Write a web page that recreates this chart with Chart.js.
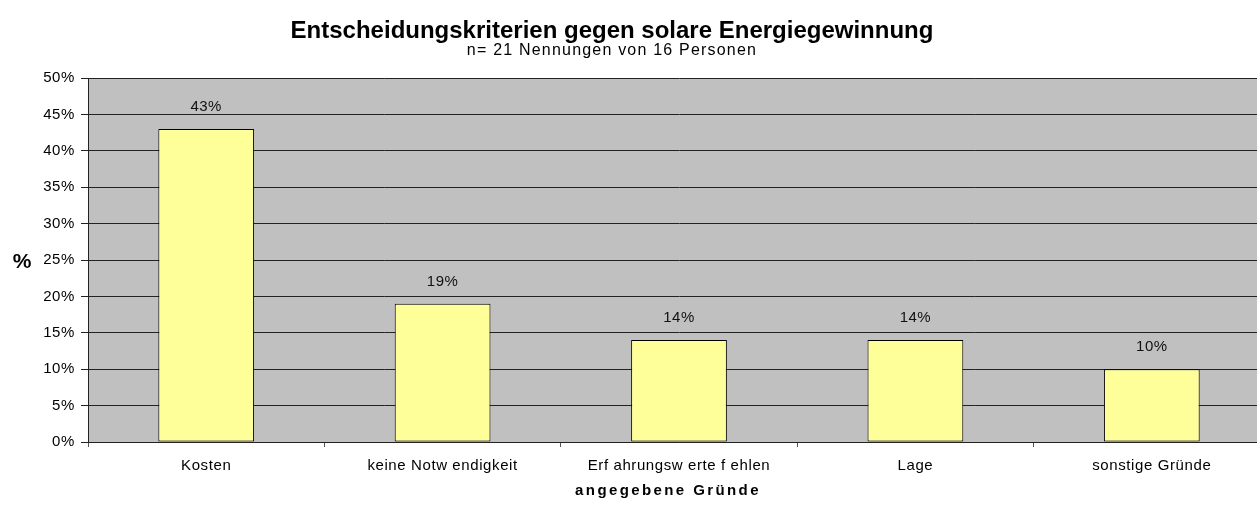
<!DOCTYPE html>
<html>
<head>
<meta charset="utf-8">
<script src="https://cdn.jsdelivr.net/npm/chart.js@4"></script>
<style>
    html, body { margin: 0; padding: 0; background: #fff; overflow: hidden; }
    /* the source picture is cut off on the right, so the chart is a bit wider than the window */
    #wrap { width: 1270px; height: 506px; }
</style>
</head>
<body>
<div id="wrap"><canvas id="barChart"></canvas></div>
<script>
var categories = ['Kosten', 'keine Notw endigkeit', 'Erf ahrungsw erte f ehlen', 'Lage', 'sonstige Gründe'];
var shares = [43, 19, 14, 14, 10];
var yTicks = [0, 5, 10, 15, 20, 25, 30, 35, 40, 45, 50];

var chartTitle = 'Entscheidungskriterien gegen solare Energiegewinnung';
var chartSubtitle = 'n= 21 Nennungen von 16 Personen';
var xTitle = 'angegebene Gründe';
var yTitle = '%';

var FONT = '"Liberation Sans", Arial, sans-serif';

// gray plot background, labels and titles
var decorations = {
    id: 'decorations',
    beforeDraw: function (chart) {
        var ctx = chart.ctx;
        var a = chart.chartArea;
        ctx.save();
        ctx.fillStyle = '#c0c0c0';
        ctx.fillRect(a.left, a.top, a.right - a.left, a.bottom - a.top);
        ctx.restore();
        // the original text is a bit spread out; ticks pick this up
        ctx.letterSpacing = '0.6px';
    },
    afterDraw: function (chart) {
        var ctx = chart.ctx;
        ctx.save();
        ctx.fillStyle = '#000';
        ctx.textAlign = 'center';
        ctx.textBaseline = 'middle';

        ctx.letterSpacing = '0px';
        ctx.font = 'bold 24px ' + FONT;
        ctx.fillText(chartTitle, 612, 31);

        ctx.letterSpacing = '1.2px';
        ctx.font = '16px ' + FONT;
        ctx.fillText(chartSubtitle, 612, 51);

        ctx.letterSpacing = '2.4px';
        ctx.font = 'bold 15px ' + FONT;
        ctx.fillText(xTitle, 668, 491);

        ctx.letterSpacing = '0px';
        ctx.font = 'bold 21px ' + FONT;
        ctx.fillText(yTitle, 22, 262);

        // value labels above bars
        ctx.letterSpacing = '0.5px';
        ctx.font = '15px ' + FONT;
        ctx.fillStyle = '#111';
        var meta = chart.getDatasetMeta(0);
        meta.data.forEach(function (bar, i) {
            ctx.fillText(shares[i] + '%', bar.x, bar.y - 22);
        });
        ctx.restore();
    }
};

new Chart(document.getElementById('barChart').getContext('2d'), {
    type: 'bar',
    data: {
        labels: categories,
        datasets: [{
            data: shares,
            backgroundColor: '#ffff99',
            borderColor: '#000',
            borderWidth: 1,
            borderSkipped: false,
            categoryPercentage: 1,
            barPercentage: 0.405
        }]
    },
    options: {
        responsive: true,
        maintainAspectRatio: false,
        animation: false,
        layout: { padding: { top: 78, right: 0, left: 0, bottom: 0 } },
        plugins: {
            legend: { display: false },
            tooltip: { enabled: false }
        },
        scales: {
            x: {
                grid: {
                    offset: true,
                    drawOnChartArea: false,
                    drawTicks: true,
                    tickLength: 5,
                    color: '#555'
                },
                border: { color: '#222', width: 1 },
                ticks: {
                    color: '#000',
                    font: { family: FONT, size: 15 },
                    padding: 10,
                    maxRotation: 0,
                    autoSkip: false
                },
                afterFit: function (scale) { scale.height = 64; }
            },
            y: {
                min: 0,
                max: 50,
                afterBuildTicks: function (scale) {
                    scale.ticks = yTicks.map(function (v) { return { value: v }; });
                },
                grid: {
                    color: '#222',
                    drawTicks: true,
                    tickLength: 7
                },
                border: { color: '#222', width: 1 },
                ticks: {
                    color: '#000',
                    font: { family: FONT, size: 15 },
                    padding: 6,
                    callback: function (v) { return v + '%'; }
                },
                afterFit: function (scale) { scale.width = 88; }
            }
        }
    },
    plugins: [decorations]
});
</script>
</body>
</html>
